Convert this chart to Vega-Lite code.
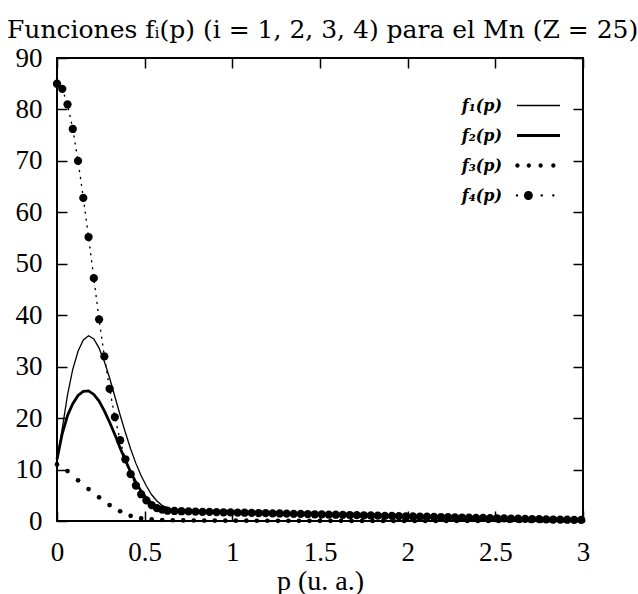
{
  "$schema": "https://vega.github.io/schema/vega-lite/v6.json",
  "width": 526,
  "height": 463,
  "autosize": {"type": "none"},
  "padding": {"left": 57, "top": 58, "right": 55, "bottom": 73},
  "config": {
    "font": "Liberation Serif",
    "view": {"stroke": "black", "strokeWidth": 2},
    "axis": {
      "grid": false,
      "domain": false,
      "tickColor": "black",
      "tickWidth": 1.5,
      "tickSize": -10,
      "labelColor": "black",
      "labelFont": "Liberation Serif",
      "labelFontSize": 27,
      "labelFlush": false,
      "titleFont": "Liberation Serif",
      "titleFontSize": 28,
      "titleFontWeight": "normal",
      "titleColor": "black"
    }
  },
  "title": {
    "text": "Funciones fᵢ(p) (i = 1, 2, 3, 4) para el Mn (Z = 25)",
    "anchor": "start",
    "frame": "group",
    "dx": -50,
    "offset": -19,
    "baseline": "alphabetic",
    "font": "DejaVu Serif",
    "fontSize": 25,
    "fontWeight": "normal",
    "color": "black"
  },
  "data": {
    "values": [
      {"serie": "f₁(p)", "p": 0, "valor": 11.5},
      {"serie": "f₁(p)", "p": 0.03, "valor": 18},
      {"serie": "f₁(p)", "p": 0.06, "valor": 24.5},
      {"serie": "f₁(p)", "p": 0.09, "valor": 29.5},
      {"serie": "f₁(p)", "p": 0.12, "valor": 33},
      {"serie": "f₁(p)", "p": 0.15, "valor": 35.2},
      {"serie": "f₁(p)", "p": 0.18, "valor": 36},
      {"serie": "f₁(p)", "p": 0.21, "valor": 35.4},
      {"serie": "f₁(p)", "p": 0.24, "valor": 33.6},
      {"serie": "f₁(p)", "p": 0.27, "valor": 31},
      {"serie": "f₁(p)", "p": 0.3, "valor": 27.8},
      {"serie": "f₁(p)", "p": 0.33, "valor": 24.2},
      {"serie": "f₁(p)", "p": 0.36, "valor": 20.6},
      {"serie": "f₁(p)", "p": 0.39, "valor": 17.2},
      {"serie": "f₁(p)", "p": 0.42, "valor": 14},
      {"serie": "f₁(p)", "p": 0.45, "valor": 11.2},
      {"serie": "f₁(p)", "p": 0.48, "valor": 8.8},
      {"serie": "f₁(p)", "p": 0.51, "valor": 6.8},
      {"serie": "f₁(p)", "p": 0.54, "valor": 5.1},
      {"serie": "f₁(p)", "p": 0.57, "valor": 3.9},
      {"serie": "f₁(p)", "p": 0.6, "valor": 3},
      {"serie": "f₁(p)", "p": 0.65, "valor": 2.3},
      {"serie": "f₁(p)", "p": 0.7, "valor": 2},
      {"serie": "f₁(p)", "p": 0.8, "valor": 1.85},
      {"serie": "f₁(p)", "p": 1, "valor": 1.7},
      {"serie": "f₁(p)", "p": 1.25, "valor": 1.45},
      {"serie": "f₁(p)", "p": 1.5, "valor": 1.2},
      {"serie": "f₁(p)", "p": 1.75, "valor": 0.98},
      {"serie": "f₁(p)", "p": 2, "valor": 0.78},
      {"serie": "f₁(p)", "p": 2.25, "valor": 0.6},
      {"serie": "f₁(p)", "p": 2.5, "valor": 0.45},
      {"serie": "f₁(p)", "p": 2.75, "valor": 0.3},
      {"serie": "f₁(p)", "p": 3, "valor": 0.2},

      {"serie": "f₂(p)", "p": 0, "valor": 12},
      {"serie": "f₂(p)", "p": 0.03, "valor": 17},
      {"serie": "f₂(p)", "p": 0.06, "valor": 20.5},
      {"serie": "f₂(p)", "p": 0.09, "valor": 22.8},
      {"serie": "f₂(p)", "p": 0.12, "valor": 24.4},
      {"serie": "f₂(p)", "p": 0.15, "valor": 25.2},
      {"serie": "f₂(p)", "p": 0.18, "valor": 25.3},
      {"serie": "f₂(p)", "p": 0.21, "valor": 24.6},
      {"serie": "f₂(p)", "p": 0.24, "valor": 23.3},
      {"serie": "f₂(p)", "p": 0.27, "valor": 21.4},
      {"serie": "f₂(p)", "p": 0.3, "valor": 19.2},
      {"serie": "f₂(p)", "p": 0.33, "valor": 16.8},
      {"serie": "f₂(p)", "p": 0.36, "valor": 14.2},
      {"serie": "f₂(p)", "p": 0.39, "valor": 11.8},
      {"serie": "f₂(p)", "p": 0.42, "valor": 9.5},
      {"serie": "f₂(p)", "p": 0.45, "valor": 7.5},
      {"serie": "f₂(p)", "p": 0.48, "valor": 5.8},
      {"serie": "f₂(p)", "p": 0.51, "valor": 4.4},
      {"serie": "f₂(p)", "p": 0.54, "valor": 3.4},
      {"serie": "f₂(p)", "p": 0.57, "valor": 2.7},
      {"serie": "f₂(p)", "p": 0.6, "valor": 2.3},
      {"serie": "f₂(p)", "p": 0.65, "valor": 2},
      {"serie": "f₂(p)", "p": 0.7, "valor": 1.9},
      {"serie": "f₂(p)", "p": 0.8, "valor": 1.8},
      {"serie": "f₂(p)", "p": 1, "valor": 1.65},
      {"serie": "f₂(p)", "p": 1.25, "valor": 1.42},
      {"serie": "f₂(p)", "p": 1.5, "valor": 1.18},
      {"serie": "f₂(p)", "p": 1.75, "valor": 0.96},
      {"serie": "f₂(p)", "p": 2, "valor": 0.76},
      {"serie": "f₂(p)", "p": 2.25, "valor": 0.58},
      {"serie": "f₂(p)", "p": 2.5, "valor": 0.43},
      {"serie": "f₂(p)", "p": 2.75, "valor": 0.3},
      {"serie": "f₂(p)", "p": 3, "valor": 0.2},

      {"serie": "f₃(p)", "p": 0, "valor": 11},
      {"serie": "f₃(p)", "p": 0.06, "valor": 9.7},
      {"serie": "f₃(p)", "p": 0.12, "valor": 7.9},
      {"serie": "f₃(p)", "p": 0.18, "valor": 6.2},
      {"serie": "f₃(p)", "p": 0.24, "valor": 4.6},
      {"serie": "f₃(p)", "p": 0.3, "valor": 3.1},
      {"serie": "f₃(p)", "p": 0.36, "valor": 1.9},
      {"serie": "f₃(p)", "p": 0.42, "valor": 1},
      {"serie": "f₃(p)", "p": 0.48, "valor": 0.5},
      {"serie": "f₃(p)", "p": 0.54, "valor": 0.3},
      {"serie": "f₃(p)", "p": 0.6, "valor": 0.2},
      {"serie": "f₃(p)", "p": 0.66, "valor": 0.15},
      {"serie": "f₃(p)", "p": 0.72, "valor": 0.12},
      {"serie": "f₃(p)", "p": 0.78, "valor": 0.1},
      {"serie": "f₃(p)", "p": 0.84, "valor": 0.09},
      {"serie": "f₃(p)", "p": 0.9, "valor": 0.08},
      {"serie": "f₃(p)", "p": 0.96, "valor": 0.07},
      {"serie": "f₃(p)", "p": 1.02, "valor": 0.06},
      {"serie": "f₃(p)", "p": 1.08, "valor": 0.06},
      {"serie": "f₃(p)", "p": 1.14, "valor": 0.05},
      {"serie": "f₃(p)", "p": 1.2, "valor": 0.05},
      {"serie": "f₃(p)", "p": 1.26, "valor": 0.04},
      {"serie": "f₃(p)", "p": 1.32, "valor": 0.04},
      {"serie": "f₃(p)", "p": 1.38, "valor": 0.04},
      {"serie": "f₃(p)", "p": 1.44, "valor": 0.03},
      {"serie": "f₃(p)", "p": 1.5, "valor": 0.03},
      {"serie": "f₃(p)", "p": 1.56, "valor": 0.03},
      {"serie": "f₃(p)", "p": 1.62, "valor": 0.03},
      {"serie": "f₃(p)", "p": 1.68, "valor": 0.02},
      {"serie": "f₃(p)", "p": 1.74, "valor": 0.02},
      {"serie": "f₃(p)", "p": 1.8, "valor": 0.02},
      {"serie": "f₃(p)", "p": 1.86, "valor": 0.02},
      {"serie": "f₃(p)", "p": 1.92, "valor": 0.02},
      {"serie": "f₃(p)", "p": 1.98, "valor": 0.02},
      {"serie": "f₃(p)", "p": 2.04, "valor": 0.01},
      {"serie": "f₃(p)", "p": 2.1, "valor": 0.01},
      {"serie": "f₃(p)", "p": 2.16, "valor": 0.01},
      {"serie": "f₃(p)", "p": 2.22, "valor": 0.01},
      {"serie": "f₃(p)", "p": 2.28, "valor": 0.01},
      {"serie": "f₃(p)", "p": 2.34, "valor": 0.01},
      {"serie": "f₃(p)", "p": 2.4, "valor": 0.01},
      {"serie": "f₃(p)", "p": 2.46, "valor": 0.01},
      {"serie": "f₃(p)", "p": 2.52, "valor": 0.01},
      {"serie": "f₃(p)", "p": 2.58, "valor": 0.01},
      {"serie": "f₃(p)", "p": 2.64, "valor": 0.01},
      {"serie": "f₃(p)", "p": 2.7, "valor": 0.01},
      {"serie": "f₃(p)", "p": 2.76, "valor": 0.01},
      {"serie": "f₃(p)", "p": 2.82, "valor": 0.01},
      {"serie": "f₃(p)", "p": 2.88, "valor": 0.01},
      {"serie": "f₃(p)", "p": 2.94, "valor": 0.01},
      {"serie": "f₃(p)", "p": 3, "valor": 0.01},

      {"serie": "f₄(p)", "p": 0, "valor": 85},
      {"serie": "f₄(p)", "p": 0.03, "valor": 84},
      {"serie": "f₄(p)", "p": 0.06, "valor": 81},
      {"serie": "f₄(p)", "p": 0.09, "valor": 76.2},
      {"serie": "f₄(p)", "p": 0.12, "valor": 70},
      {"serie": "f₄(p)", "p": 0.15, "valor": 62.8},
      {"serie": "f₄(p)", "p": 0.18, "valor": 55.2},
      {"serie": "f₄(p)", "p": 0.21, "valor": 47.2},
      {"serie": "f₄(p)", "p": 0.24, "valor": 39.2},
      {"serie": "f₄(p)", "p": 0.27, "valor": 32},
      {"serie": "f₄(p)", "p": 0.3, "valor": 25.7},
      {"serie": "f₄(p)", "p": 0.33, "valor": 20.2},
      {"serie": "f₄(p)", "p": 0.36, "valor": 15.7},
      {"serie": "f₄(p)", "p": 0.39, "valor": 12},
      {"serie": "f₄(p)", "p": 0.42, "valor": 9.1},
      {"serie": "f₄(p)", "p": 0.45, "valor": 6.9},
      {"serie": "f₄(p)", "p": 0.48, "valor": 5.2},
      {"serie": "f₄(p)", "p": 0.51, "valor": 4},
      {"serie": "f₄(p)", "p": 0.54, "valor": 3.1},
      {"serie": "f₄(p)", "p": 0.57, "valor": 2.5},
      {"serie": "f₄(p)", "p": 0.6, "valor": 2.2},
      {"serie": "f₄(p)", "p": 0.63, "valor": 2},
      {"serie": "f₄(p)", "p": 0.67, "valor": 1.95},
      {"serie": "f₄(p)", "p": 0.71, "valor": 1.9},
      {"serie": "f₄(p)", "p": 0.75, "valor": 1.86},
      {"serie": "f₄(p)", "p": 0.79, "valor": 1.82},
      {"serie": "f₄(p)", "p": 0.83, "valor": 1.79},
      {"serie": "f₄(p)", "p": 0.87, "valor": 1.76},
      {"serie": "f₄(p)", "p": 0.91, "valor": 1.73},
      {"serie": "f₄(p)", "p": 0.95, "valor": 1.7},
      {"serie": "f₄(p)", "p": 0.99, "valor": 1.67},
      {"serie": "f₄(p)", "p": 1.03, "valor": 1.64},
      {"serie": "f₄(p)", "p": 1.07, "valor": 1.61},
      {"serie": "f₄(p)", "p": 1.11, "valor": 1.58},
      {"serie": "f₄(p)", "p": 1.15, "valor": 1.55},
      {"serie": "f₄(p)", "p": 1.19, "valor": 1.52},
      {"serie": "f₄(p)", "p": 1.23, "valor": 1.49},
      {"serie": "f₄(p)", "p": 1.27, "valor": 1.46},
      {"serie": "f₄(p)", "p": 1.31, "valor": 1.43},
      {"serie": "f₄(p)", "p": 1.35, "valor": 1.4},
      {"serie": "f₄(p)", "p": 1.39, "valor": 1.37},
      {"serie": "f₄(p)", "p": 1.43, "valor": 1.34},
      {"serie": "f₄(p)", "p": 1.47, "valor": 1.31},
      {"serie": "f₄(p)", "p": 1.51, "valor": 1.28},
      {"serie": "f₄(p)", "p": 1.55, "valor": 1.25},
      {"serie": "f₄(p)", "p": 1.59, "valor": 1.22},
      {"serie": "f₄(p)", "p": 1.63, "valor": 1.19},
      {"serie": "f₄(p)", "p": 1.67, "valor": 1.16},
      {"serie": "f₄(p)", "p": 1.71, "valor": 1.13},
      {"serie": "f₄(p)", "p": 1.75, "valor": 1.1},
      {"serie": "f₄(p)", "p": 1.79, "valor": 1.07},
      {"serie": "f₄(p)", "p": 1.83, "valor": 1.04},
      {"serie": "f₄(p)", "p": 1.87, "valor": 1.01},
      {"serie": "f₄(p)", "p": 1.91, "valor": 0.98},
      {"serie": "f₄(p)", "p": 1.95, "valor": 0.95},
      {"serie": "f₄(p)", "p": 1.99, "valor": 0.92},
      {"serie": "f₄(p)", "p": 2.03, "valor": 0.89},
      {"serie": "f₄(p)", "p": 2.07, "valor": 0.86},
      {"serie": "f₄(p)", "p": 2.11, "valor": 0.83},
      {"serie": "f₄(p)", "p": 2.15, "valor": 0.8},
      {"serie": "f₄(p)", "p": 2.19, "valor": 0.77},
      {"serie": "f₄(p)", "p": 2.23, "valor": 0.74},
      {"serie": "f₄(p)", "p": 2.27, "valor": 0.71},
      {"serie": "f₄(p)", "p": 2.31, "valor": 0.68},
      {"serie": "f₄(p)", "p": 2.35, "valor": 0.65},
      {"serie": "f₄(p)", "p": 2.39, "valor": 0.62},
      {"serie": "f₄(p)", "p": 2.43, "valor": 0.59},
      {"serie": "f₄(p)", "p": 2.47, "valor": 0.56},
      {"serie": "f₄(p)", "p": 2.51, "valor": 0.53},
      {"serie": "f₄(p)", "p": 2.55, "valor": 0.5},
      {"serie": "f₄(p)", "p": 2.59, "valor": 0.47},
      {"serie": "f₄(p)", "p": 2.63, "valor": 0.44},
      {"serie": "f₄(p)", "p": 2.67, "valor": 0.41},
      {"serie": "f₄(p)", "p": 2.71, "valor": 0.38},
      {"serie": "f₄(p)", "p": 2.75, "valor": 0.35},
      {"serie": "f₄(p)", "p": 2.79, "valor": 0.32},
      {"serie": "f₄(p)", "p": 2.83, "valor": 0.29},
      {"serie": "f₄(p)", "p": 2.87, "valor": 0.27},
      {"serie": "f₄(p)", "p": 2.91, "valor": 0.25},
      {"serie": "f₄(p)", "p": 2.95, "valor": 0.23},
      {"serie": "f₄(p)", "p": 2.99, "valor": 0.21}
    ]
  },
  "resolve": {"axis": {"x": "independent", "y": "independent"}},
  "layer": [
    {
      "transform": [{"filter": {"field": "serie", "equal": "f₁(p)"}}],
      "mark": {"type": "line", "color": "black", "strokeWidth": 1.3},
      "encoding": {
        "x": {
          "field": "p", "type": "quantitative",
          "scale": {"domain": [0, 3], "nice": false, "zero": false},
          "axis": {
            "orient": "bottom",
            "values": [0, 0.5, 1, 1.5, 2, 2.5, 3],
            "format": "~g",
            "labelPadding": 28,
            "title": "p (u. a.)",
            "titlePadding": 2
          }
        },
        "y": {
          "field": "valor", "type": "quantitative",
          "scale": {"domain": [0, 90], "nice": false},
          "axis": {
            "orient": "left",
            "values": [0, 10, 20, 30, 40, 50, 60, 70, 80, 90],
            "labelPadding": 25,
            "title": null
          }
        }
      }
    },
    {
      "transform": [{"filter": {"field": "serie", "equal": "f₂(p)"}}],
      "mark": {"type": "line", "color": "black", "strokeWidth": 2.8},
      "encoding": {
        "x": {
          "field": "p", "type": "quantitative",
          "axis": {"orient": "top", "values": [0, 0.5, 1, 1.5, 2, 2.5, 3], "labels": false, "title": null}
        },
        "y": {
          "field": "valor", "type": "quantitative",
          "axis": {"orient": "right", "values": [0, 10, 20, 30, 40, 50, 60, 70, 80, 90], "labels": false, "title": null}
        }
      }
    },
    {
      "transform": [{"filter": {"field": "serie", "equal": "f₄(p)"}}],
      "mark": {"type": "line", "color": "black", "strokeWidth": 1.4, "strokeDash": [1, 6], "strokeCap": "round"},
      "encoding": {
        "x": {"field": "p", "type": "quantitative", "axis": null},
        "y": {"field": "valor", "type": "quantitative", "axis": null}
      }
    },
    {
      "transform": [{"filter": {"field": "serie", "equal": "f₃(p)"}}],
      "mark": {"type": "circle", "color": "black", "size": 22, "opacity": 1},
      "encoding": {
        "x": {"field": "p", "type": "quantitative", "axis": null},
        "y": {"field": "valor", "type": "quantitative", "axis": null}
      }
    },
    {
      "transform": [{"filter": {"field": "serie", "equal": "f₄(p)"}}],
      "mark": {"type": "circle", "color": "black", "size": 68, "opacity": 1},
      "encoding": {
        "x": {"field": "p", "type": "quantitative", "axis": null},
        "y": {"field": "valor", "type": "quantitative", "axis": null}
      }
    },
    {
      "mark": {"type": "point", "filled": true, "color": "black", "opacity": 0},
      "encoding": {
        "x": {"field": "p", "type": "quantitative", "axis": null},
        "y": {"field": "valor", "type": "quantitative", "axis": null},
        "shape": {
          "field": "serie", "type": "nominal",
          "scale": {
            "domain": ["f₁(p)", "f₂(p)", "f₃(p)", "f₄(p)"],
            "range": [
              "M-1,-0.03L1,-0.03L1,0.03L-1,0.03Z",
              "M-1,-0.07L1,-0.07L1,0.07L-1,0.07Z",
              "M-1.08,0A0.1,0.1 0 1,0 -0.88,0A0.1,0.1 0 1,0 -1.08,0Z M-0.55,0A0.1,0.1 0 1,0 -0.35,0A0.1,0.1 0 1,0 -0.55,0Z M0,0A0.1,0.1 0 1,0 0.2,0A0.1,0.1 0 1,0 0,0Z M0.59,0A0.1,0.1 0 1,0 0.79,0A0.1,0.1 0 1,0 0.59,0Z",
              "M-1.055,0A0.055,0.055 0 1,0 -0.945,0A0.055,0.055 0 1,0 -1.055,0Z M-0.68,0A0.21,0.21 0 1,0 -0.26,0A0.21,0.21 0 1,0 -0.68,0Z M0.095,0A0.055,0.055 0 1,0 0.205,0A0.055,0.055 0 1,0 0.095,0Z M0.635,0A0.055,0.055 0 1,0 0.745,0A0.055,0.055 0 1,0 0.635,0Z"
            ]
          },
          "legend": {
            "orient": "none",
            "legendX": 460,
            "legendY": 26,
            "title": null,
            "padding": 0,
            "gridAlign": "all",
            "symbolSize": 1849,
            "symbolFillColor": "black",
            "symbolStrokeColor": "black",
            "symbolStrokeWidth": 0,
            "symbolOpacity": 1,
            "labelFont": "DejaVu Serif",
            "labelFontSize": 16,
            "labelFontStyle": "italic",
            "labelFontWeight": "bold",
            "labelColor": "black",
            "labelAlign": "right",
            "labelOffset": -58,
            "rowPadding": -3
          }
        }
      }
    }
  ]
}
